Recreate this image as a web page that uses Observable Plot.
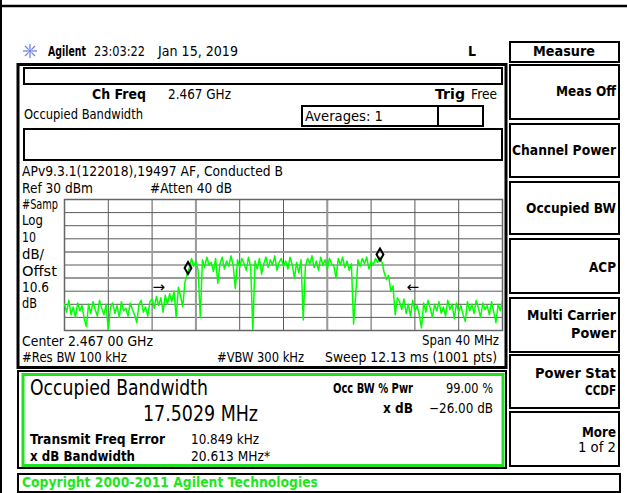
<!DOCTYPE html>
<html><head><meta charset="utf-8">
<script src="https://cdn.jsdelivr.net/npm/d3@7"></script>
<script src="https://cdn.jsdelivr.net/npm/@observablehq/plot@0.6"></script>
<style>html,body{margin:0;padding:0;background:#fff;} svg{display:block}</style>
</head><body><div id="chart"></div>
<script>
const startFreq = 2447, stopFreq = 2487, freqStep = 0.2;   // MHz, span 40 MHz around 2467
const refLevel = 30, bottomLevel = -70;                      // dBm, 10 dB/div
const traceDbm = [
 -50,-56,-47,-58,-52,-60,-49,-55,-51,-61,
 -67,-50,-57,-48,-54,-59,-47,-53,-58,-50,
 -70,-52,-49,-57,-51,-60,-48,-55,-53,-59,
 -49,-54,-58,-64,-50,-47,-56,-52,-59,-48,
 -46,-53,-44,-51,-45,-56,-43,-50,-42,-48,
 -40,-60,-37,-44,-52,-33,-27,
 -22,
 -15,-21,-17,-24,
 -60,
 -16,-22,-14,-20,-18,-25,-15,
 -34,
 -19,-14,-23,-17,-21,-13,-20,
 -38,
 -16,-22,-15,-19,-24,-14,-21,
 -70,
 -17,-23,-15,
 -27,
 -19,-14,-22,-16,-20,-13,-24,-18,-15,-21,-17,-23,-14,-20,
 -30,
 -18,-26,-16,
 -62,
 -21,-15,-19,-13,-22,-17,-24,-14,-20,-16,-23,-15,-19,-21,
 -30,
 -15,-20,-14,-22,-17,-24,-19,
 -65,
 -42,-16,-21,-15,-19,-14,-23,-17,-20,-15,-18,-14,
 -18,-26,-31,-28,-40,-36,-58,-45,
 -48,-54,-46,-57,-50,-59,-47,-55,-51,-58,
 -68,
 -49,-56,-47,-53,-60,-50,-55,-48,-57,
 -52,-59,-47,-54,-50,-61,-49,-56,-51,-58,
 -63,-48,-55,-50,-57,-47,-53,-60,-49,-54,
 -51,-58,-48,-56,-64,-50,-55,-47
];
const gridFreqs = [2447,2451,2455,2459,2463,2467,2471,2475,2479,2483,2487];
const gridLevels = [30,20,10,0,-10,-20,-30,-40,-50,-60,-70];
const lightFreqs = [2459, 2471];
const lightLevels = [-10, -30];
const markerFreqs = [2458.28, 2475.81];
const markerLevels = [-22.3, -12.0];
const arrowFreqs = [2455.6, 2478.8];
const arrowLevels = [-37.2, -37.2];
const arrowGlyphs = ["→", "←"];

const trace = traceDbm.map((v, i) => ({f: startFreq + i * freqStep, dbm: v}));
const markers = markerFreqs.map((f, i) => ({f, dbm: markerLevels[i]}));
const arrows = arrowFreqs.map((f, i) => ({f, dbm: arrowLevels[i], t: arrowGlyphs[i]}));

const FONT = "DejaVu Sans, sans-serif";

const chart = Plot.plot({
  width: 627, height: 493,
  marginLeft: 64, marginRight: 125, marginTop: 199, marginBottom: 163,
  x: {domain: [startFreq, stopFreq], axis: null},
  y: {domain: [bottomLevel, refLevel], axis: null},
  style: {background: "white", fontFamily: FONT, overflow: "visible"},
  marks: [
    Plot.ruleX(gridFreqs, {x: d => d, stroke: "#5a5a5a", strokeWidth: 1, strokeOpacity: 1}),
    Plot.ruleY(gridLevels, {y: d => d, stroke: "#5a5a5a", strokeWidth: 1, strokeOpacity: 1}),
    Plot.ruleX(lightFreqs, {x: d => d, stroke: "#9a9a9a", strokeWidth: 2, strokeOpacity: 1}),
    Plot.ruleY(lightLevels, {y: d => d, stroke: "#9a9a9a", strokeWidth: 2, strokeOpacity: 1}),
    Plot.frame({stroke: "#666", strokeWidth: 1.5}),
    Plot.line(trace, {x: "f", y: "dbm", stroke: "#00ff00", strokeWidth: 1.5, clip: "frame"}),
    Plot.dot(markers, {x: "f", y: "dbm", symbol: "diamond", r: 3.6, stroke: "black", strokeWidth: 2, fill: "none"}),
    Plot.text(arrows, {x: "f", y: "dbm", text: "t", fontSize: 15, fill: "black"})
  ]
});
document.getElementById("chart").appendChild(chart);

// ---- instrument screen chrome ----
const svg = d3.select(chart);
const g = svg.append("g").attr("text-anchor", "start");
function R(x, y, w, h, o = {}) {
  g.append("rect").attr("x", x).attr("y", y).attr("width", w).attr("height", h)
   .attr("fill", o.fill || "none").attr("stroke", o.stroke || "#000").attr("stroke-width", o.sw || 2);
}
function L(x1, y1, x2, y2, o = {}) {
  g.append("line").attr("x1", x1).attr("y1", y1).attr("x2", x2).attr("y2", y2)
   .attr("stroke", o.stroke || "#000").attr("stroke-width", o.sw || 2);
}
function T(x, y, s, len, o = {}) {
  const t = g.append("text").attr("x", x).attr("y", y).text(s)
   .attr("text-anchor", "start")
   .attr("font-family", FONT).attr("font-size", o.size || 13.5)
   .attr("font-weight", o.bold ? "bold" : "normal").attr("fill", o.fill || "#000");
  if (len) t.attr("textLength", len).attr("lengthAdjust", "spacingAndGlyphs");
}
// outer page lines
L(0, 6, 627, 6, {sw: 2.5});
L(1, 0, 1, 493, {sw: 2});
// logo spark
const cx = 30, cy = 51;
for (let k = 0; k < 8; k++) {
  const a = k * Math.PI / 4;
  L(cx + Math.cos(a) * 2, cy + Math.sin(a) * 2, cx + Math.cos(a) * 7, cy + Math.sin(a) * 7, {stroke: "#6f82ea", sw: 1.3});
}
g.append("circle").attr("cx", cx).attr("cy", cy).attr("r", 1.8).attr("fill", "#6f82ea");
T(48, 56, "Agilent", 38, {bold: true, size: 14});
T(94, 56, "23:03:22", 51, {size: 14});
T(158, 56, "Jan 15, 2019", 80, {size: 14});
T(468, 56, "L", 8, {bold: true, size: 14});

// main panel
R(18, 64.5, 488, 303, {sw: 3});
R(24, 68, 478, 16);
T(92, 99, "Ch Freq", 54, {bold: true, size: 14});
T(168, 99, "2.467 GHz", 63);
T(435, 99, "Trig", 30, {bold: true, size: 14});
T(471, 99, "Free", 26);
T(24, 119, "Occupied Bandwidth", 119);
R(302, 106, 136, 20);
R(438, 106, 45, 20);
T(305, 121, "Averages: 1", 78);
R(24, 129, 478, 31);
T(22, 176, "APv9.3.1(122018),19497 AF, Conducted B", 261);
T(22, 193, "Ref 30 dBm", 71);
T(150, 193, "#Atten 40 dB", 82);
T(22, 209, "#Samp", 36);
T(22, 225, "Log", 21);
T(22, 242, "10", 14);
T(22, 259, "dB/", 22);
T(22, 276, "Offst", 35);
T(22, 292, "10.6", 27);
T(22, 308, "dB", 15);
T(22, 346, "Center 2.467 00 GHz", 131);
T(422, 345, "Span 40 MHz", 77);
T(22, 362, "#Res BW 100 kHz", 105);
T(217, 362, "#VBW 300 kHz", 87);
T(325, 362, "Sweep 12.13 ms (1001 pts)", 172);

// result panel
R(18, 371, 488, 97);
R(23, 374.5, 480, 91, {stroke: "#22e022", sw: 3});
T(30, 395, "Occupied Bandwidth", 178, {size: 22});
T(143, 421, "17.5029 MHz", 115, {size: 22});
T(30, 444, "Transmit Freq Error", 135, {bold: true});
T(191, 444, "10.849 kHz", 68);
T(30, 461, "x dB Bandwidth", 105, {bold: true});
T(191, 461, "20.613 MHz*", 79);
T(333, 393, "Occ BW % Pwr", 80, {bold: true, size: 14});
T(446, 393, "99.00 %", 47);
T(383, 413, "x dB", 30, {bold: true, size: 14});
T(429, 413, "\u221226.00 dB", 64);

// copyright bar
R(18, 474, 602, 18);
T(22, 487, "Copyright 2000-2011 Agilent Technologies", 296, {bold: true, fill: "#1ee61e", size: 14});

// softkey menu
R(510, 42, 109, 20);
T(533, 56, "Measure", 62, {bold: true, size: 14});
const keys = [[65, 119], [124, 177], [182, 234], [239, 293], [298, 352], [355, 408], [412, 466]];
keys.forEach(([a, b]) => R(510, a, 109, b - a));
T(556, 96, "Meas Off", 60, {bold: true, size: 14});
T(512, 155, "Channel Power", 104, {bold: true, size: 14});
T(526, 213, "Occupied BW", 90, {bold: true, size: 14});
T(589, 272, "ACP", 27, {bold: true, size: 14});
T(527, 320, "Multi Carrier", 89, {bold: true, size: 14});
T(571, 338, "Power", 45, {bold: true, size: 14});
T(535, 378, "Power Stat", 81, {bold: true, size: 14});
T(585, 395, "CCDF", 31, {bold: true, size: 14});
T(582, 437, "More", 34, {bold: true, size: 14});
T(578, 452, "1 of 2", 38);
</script>
</body></html>
